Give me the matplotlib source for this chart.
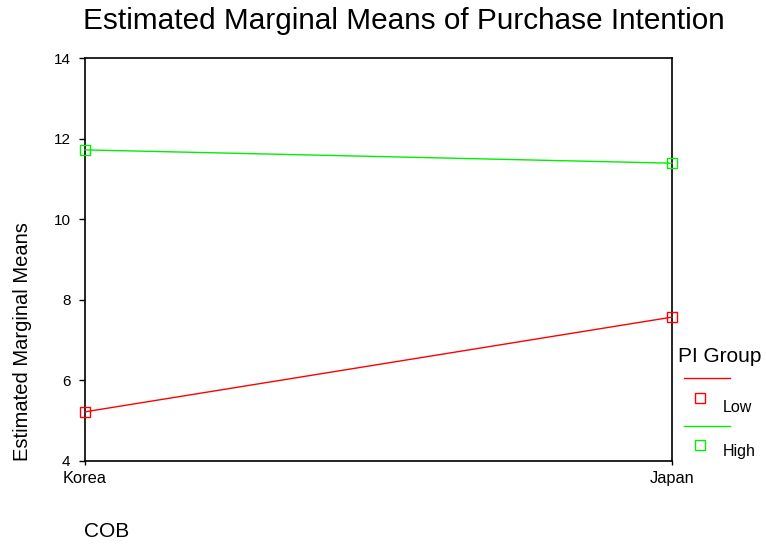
import matplotlib
matplotlib.use("Agg")
import matplotlib.pyplot as plt
from matplotlib.lines import Line2D

plt.rcParams['font.family'] = ['Liberation Sans', 'DejaVu Sans']

categories = ["Korea", "Japan"]
groups = ["Low", "High"]
values = {
    "Low": [5.22, 7.57],
    "High": [11.72, 11.39],
}
colors = {"Low": "#ff0000", "High": "#00ee00"}
yticks = [4, 6, 8, 10, 12, 14]

W, H = 766, 544
fig = plt.figure(figsize=(W/100, H/100), dpi=100)
ax = fig.add_axes([85/W, 1-461/H, (672-85)/W, (461-58)/H])

x = list(range(len(categories)))
for g in groups:
    ax.plot(x, values[g], color=colors[g], lw=1.0, marker='s', markersize=7,
            markerfacecolor='none', markeredgecolor=colors[g], markeredgewidth=1.0,
            clip_on=False, zorder=3)

ax.set_xlim(0, len(categories) - 1)
ax.set_ylim(4, 14)
ax.set_yticks(yticks)
ax.set_yticklabels([str(t) for t in yticks], fontsize=11)
ax.set_xticks(x)
ax.set_xticklabels(categories, fontsize=11.8)
ax.tick_params(axis='y', direction='out', length=4.5, width=1, color='black', pad=6)
ax.tick_params(axis='x', direction='out', length=3, width=1, color='black', pad=4)
for s in ax.spines.values():
    s.set_linewidth(1.2)
    s.set_color('black')

fig.text(404/W, 1-29/H, "Estimated Marginal Means of Purchase Intention",
         ha='center', va='baseline', fontsize=21.4)
fig.text(23/W, 1-342/H, "Estimated Marginal Means", rotation=90,
         ha='center', va='center', fontsize=14.5)
fig.text(84/W, 1-537/H, "COB", ha='left', va='baseline', fontsize=15)

# manual legend
fig.text(678/W, 1-362/H, "PI Group", ha='left', va='baseline', fontsize=15)
leg_y = [(378, 398, 412), (426, 445, 456)]
for g, (ly, my, ty) in zip(groups, leg_y):
    fig.add_artist(Line2D([684/W, 730/W], [1-ly/H, 1-ly/H],
                          color=colors[g], lw=1.0, transform=fig.transFigure))
    fig.add_artist(Line2D([700/W], [1-my/H], color=colors[g], marker='s',
                          markersize=7, markerfacecolor='none', markeredgewidth=1.0,
                          linestyle='none', transform=fig.transFigure))
    fig.text(723/W, 1-ty/H, g, ha='left', va='baseline', fontsize=11.5)

fig.savefig("out.png", dpi=100)
